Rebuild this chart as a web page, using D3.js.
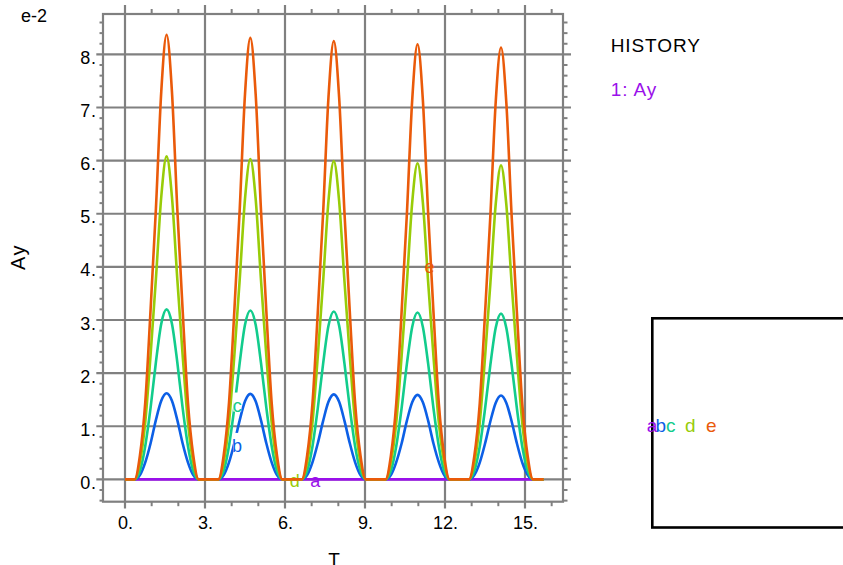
<!DOCTYPE html>
<html><head><meta charset="utf-8">
<script src="https://cdn.jsdelivr.net/npm/d3@7"></script>
<style>
body{margin:0;background:#fff}
svg{display:block}
text{font-family:"Liberation Sans",Arial,sans-serif}
</style>
</head><body>
<svg id="chart" width="843" height="565"></svg>
<script>
// ---------------- data (Ay in units of 1e-2) ----------------
const seriesNames = ["a","b","c","d","e"];
const seriesColors = ["#9a10ea","#0c5fe6","#12cc8c","#98cc08","#ea5a0a"];

const xTickLabels = ["0.","3.","6.","9.","12.","15."];
const xTickValues = [0,3,6,9,12,15];
const yTickLabels = ["0.","1.","2.","3.","4.","5.","6.","7.","8."];
const yTickValues = [0,1,2,3,4,5,6,7,8];

const tA = [0.00, 15.70];
const ayA = [0, 0];

const tGrid = [0.00,
  0.36,0.56,0.76,0.96,1.16,1.36,1.56,1.76,1.96,2.16,2.36,2.56,2.76,
  3.50,3.70,3.90,4.10,4.30,4.50,4.70,4.90,5.10,5.30,5.50,5.70,5.90,
  6.63,6.83,7.03,7.23,7.43,7.63,7.83,8.03,8.23,8.43,8.63,8.83,9.03,
  9.77,9.97,10.17,10.37,10.57,10.77,10.97,11.17,11.37,11.57,11.77,11.97,12.17,
  12.90,13.10,13.30,13.50,13.70,13.90,14.10,14.30,14.50,14.70,14.90,15.10,15.30,
  15.70];

const ayB = [0,
  0,0.08,0.32,0.68,1.12,1.48,1.62,1.48,1.12,0.68,0.32,0.08,0,
  0,0.08,0.32,0.68,1.11,1.47,1.61,1.47,1.11,0.68,0.32,0.08,0,
  0,0.08,0.32,0.68,1.10,1.46,1.60,1.46,1.10,0.68,0.32,0.08,0,
  0,0.08,0.32,0.67,1.10,1.45,1.59,1.45,1.10,0.67,0.32,0.08,0,
  0,0.08,0.31,0.67,1.09,1.44,1.58,1.44,1.09,0.67,0.31,0.08,0,
  0];

const ayC = [0,
  0,0.16,0.63,1.35,2.21,2.93,3.20,2.93,2.21,1.35,0.63,0.16,0,
  0,0.16,0.63,1.35,2.19,2.91,3.18,2.91,2.19,1.35,0.63,0.16,0,
  0,0.16,0.62,1.34,2.18,2.89,3.16,2.89,2.18,1.34,0.62,0.16,0,
  0,0.16,0.62,1.33,2.17,2.87,3.14,2.87,2.17,1.33,0.62,0.16,0,
  0,0.16,0.61,1.32,2.15,2.85,3.12,2.85,2.15,1.32,0.61,0.16,0,
  0];

const ayD = [0,
  0,0.32,1.08,2.35,3.78,5.32,6.08,5.32,3.78,2.35,1.08,0.32,0,
  0,0.32,1.07,2.33,3.75,5.28,6.03,5.28,3.75,2.33,1.07,0.32,0,
  0,0.32,1.07,2.32,3.73,5.24,5.99,5.24,3.73,2.32,1.07,0.32,0,
  0,0.32,1.06,2.30,3.70,5.21,5.95,5.21,3.70,2.30,1.06,0.32,0,
  0,0.31,1.05,2.29,3.68,5.17,5.91,5.17,3.68,2.29,1.05,0.31,0,
  0];

const ayE = [0,
  0,0.45,1.45,3.20,5.10,7.30,8.37,7.30,5.10,3.20,1.45,0.45,0,
  0,0.45,1.44,3.17,5.06,7.25,8.31,7.25,5.06,3.17,1.44,0.45,0,
  0,0.45,1.43,3.15,5.02,7.19,8.25,7.19,5.02,3.15,1.43,0.45,0,
  0,0.44,1.42,3.13,4.99,7.14,8.19,7.14,4.99,3.13,1.42,0.44,0,
  0,0.44,1.41,3.11,4.95,7.09,8.13,7.09,4.95,3.11,1.41,0.44,0,
  0];

// curve-label anchor points (T, Ay e-2)
const labelT  = [7.13, 4.20, 4.21, 6.37, 11.42];
const labelAy = [-0.03, 0.63, 1.39, -0.03, 4.00];

// ---------------- drawing ----------------
const svg = d3.select("#chart");
const plot = {left:103, right:563, top:14, bottom:501.7};
const x = d3.scaleLinear().domain([-0.825, 16.425]).range([plot.left, plot.right]);
const y = d3.scaleLinear().domain([-0.42, 8.76]).range([plot.bottom, plot.top]);
const gridColor = "#808080";
const FONT = '"Liberation Sans",Arial,sans-serif';

const xMinor = d3.range(1, 17).filter(v => v % 3 !== 0);
const yMinor = d3.range(-2, 44).map(i => +(i*0.2).toFixed(1)).filter(v => Math.abs(v - Math.round(v)) > 1e-6);

const g = svg.append("g");
// minor ticks
g.selectAll(".xmt").data(xMinor).join("line")
  .attr("x1", d => x(d)).attr("x2", d => x(d)).attr("y1", plot.top - 5).attr("y2", plot.top)
  .attr("stroke", gridColor).attr("stroke-width", 2);
g.selectAll(".xmb").data(xMinor).join("line")
  .attr("x1", d => x(d)).attr("x2", d => x(d)).attr("y1", plot.bottom).attr("y2", plot.bottom + 4.5)
  .attr("stroke", gridColor).attr("stroke-width", 2);
g.selectAll(".yml").data(yMinor).join("line")
  .attr("x1", plot.left - 3.5).attr("x2", plot.left).attr("y1", d => y(d)).attr("y2", d => y(d))
  .attr("stroke", gridColor).attr("stroke-width", 2);
g.selectAll(".ymr").data(yMinor).join("line")
  .attr("x1", plot.right).attr("x2", plot.right + 4.5).attr("y1", d => y(d)).attr("y2", d => y(d))
  .attr("stroke", gridColor).attr("stroke-width", 2);
// major grid
g.selectAll(".gx").data(xTickValues).join("line")
  .attr("x1", d => x(d)).attr("x2", d => x(d)).attr("y1", plot.top - 9).attr("y2", plot.bottom + 6.7)
  .attr("stroke", gridColor).attr("stroke-width", 2.2);
g.selectAll(".gy").data(yTickValues).join("line")
  .attr("x1", plot.left - 6.7).attr("x2", plot.right + 8).attr("y1", d => y(d)).attr("y2", d => y(d))
  .attr("stroke", gridColor).attr("stroke-width", 2.2);
// frame
g.append("rect").attr("x", plot.left).attr("y", plot.top)
  .attr("width", plot.right - plot.left).attr("height", plot.bottom - plot.top)
  .attr("fill", "none").attr("stroke", gridColor).attr("stroke-width", 2.2);

// axes (labels)
const xAxis = d3.axisBottom(x).tickValues(xTickValues)
  .tickFormat((d, i) => xTickLabels[i]).tickSize(0).tickPadding(0);
const gx = svg.append("g").attr("transform", `translate(0,${plot.bottom})`).call(xAxis);
gx.select(".domain").remove();
gx.selectAll("text").attr("y", 27.5).attr("dy", null)
  .attr("font-size", 18).attr("fill", "#000").attr("font-family", FONT);

const yAxis = d3.axisLeft(y).tickValues(yTickValues)
  .tickFormat((d, i) => yTickLabels[i]).tickSize(0).tickPadding(0);
const gy = svg.append("g").attr("transform", `translate(${plot.left},0)`).call(yAxis);
gy.select(".domain").remove();
gy.selectAll("text").attr("x", -6.2).attr("dy", 9)
  .attr("font-size", 18).attr("letter-spacing", 0.8).attr("fill", "#000").attr("font-family", FONT);

// curves
const allSeries = [
  tA.map((t, i) => [t, ayA[i]]),
  tGrid.map((t, i) => [t, ayB[i]]),
  tGrid.map((t, i) => [t, ayC[i]]),
  tGrid.map((t, i) => [t, ayD[i]]),
  tGrid.map((t, i) => [t, ayE[i]])
];
const line = d3.line().x(d => x(d[0])).y(d => y(d[1])).curve(d3.curveMonotoneX);
const cg = svg.append("g");
allSeries.forEach((s, i) => {
  cg.append("path").attr("d", line(s)).attr("fill", "none")
    .attr("stroke", seriesColors[i]).attr("stroke-width", 2.6)
    .attr("stroke-linejoin", "round");
  const lx = x(labelT[i]), ly = y(labelAy[i]);
  if (i === 1 || i === 2) {
    cg.append("rect").attr("x", lx - 4).attr("y", ly - 13).attr("width", 8).attr("height", 19)
      .attr("fill", "#fff");
  }
  cg.append("text").attr("x", lx).attr("y", ly + 6).attr("text-anchor", "middle")
    .attr("font-size", 18).attr("fill", seriesColors[i]).text(seriesNames[i]);
});

// titles
svg.append("text").attr("x", 21).attr("y", 22).attr("font-size", 18).text("e-2");
svg.append("text").attr("transform", "translate(25,257) rotate(-90)")
  .attr("text-anchor", "middle").attr("font-size", 20).attr("letter-spacing", 1.5).text("Ay");
svg.append("text").attr("x", 334).attr("y", 566).attr("text-anchor", "middle")
  .attr("font-size", 19).text("T");

// legend
svg.append("text").attr("x", 610.7).attr("y", 51.7).attr("font-size", 19)
  .attr("letter-spacing", 0.9).text("HISTORY");
svg.append("text").attr("x", 610.7).attr("y", 96).attr("font-size", 19)
  .attr("letter-spacing", 0.9).attr("fill", seriesColors[0]).text("1: Ay");

// box with curve letters
svg.append("rect").attr("x", 652.3).attr("y", 318.3).attr("width", 220).attr("height", 209.2)
  .attr("fill", "none").attr("stroke", "#000").attr("stroke-width", 2.6);
const boxLetterX = [646.7, 655.5, 666, 685, 706];
svg.selectAll(".boxl").data(seriesNames).join("text")
  .attr("x", (d, i) => boxLetterX[i]).attr("y", 431.5).attr("font-size", 19)
  .attr("fill", (d, i) => seriesColors[i]).text(d => d);
</script>
</body></html>
